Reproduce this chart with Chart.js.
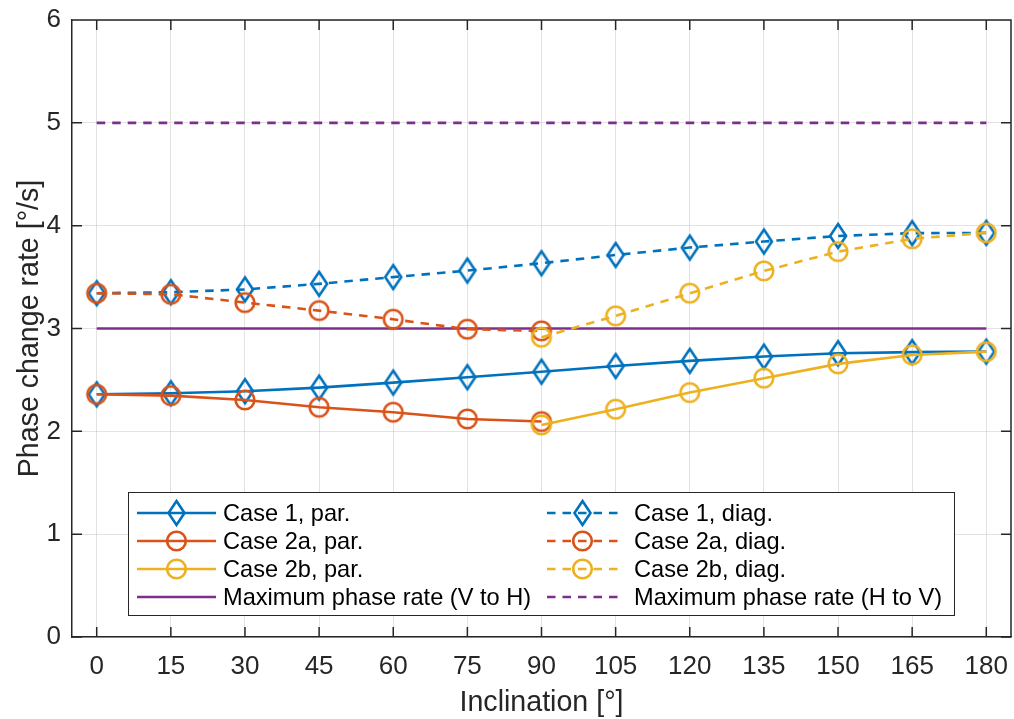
<!DOCTYPE html>
<html><head><meta charset="utf-8">
<script src="https://cdn.jsdelivr.net/npm/chart.js@4"></script>
<style>html,body{margin:0;padding:0;background:#fff}#wrap{width:1014px;height:719px;position:relative}</style>
</head><body><div id="wrap"><canvas id="c" width="1014" height="719"></canvas></div>
<script>
// ---- data ----
const angles = [0, 15, 30, 45, 60, 75, 90, 105, 120, 135, 150, 165, 180];
const case1Par = [2.36, 2.37, 2.39, 2.425, 2.474, 2.526, 2.58, 2.635, 2.685, 2.727, 2.76, 2.77, 2.775];
const case1Diag = [3.343, 3.353, 3.38, 3.434, 3.50, 3.563, 3.635, 3.715, 3.787, 3.846, 3.90, 3.927, 3.93];
const angles2a = [0, 15, 30, 45, 60, 75, 90];
const case2aPar = [2.36, 2.347, 2.305, 2.234, 2.186, 2.12, 2.095];
const case2aDiag = [3.343, 3.333, 3.252, 3.174, 3.09, 2.993, 2.977];
const angles2b = [90, 105, 120, 135, 150, 165, 180];
const case2bPar = [2.062, 2.215, 2.377, 2.517, 2.656, 2.743, 2.775];
const case2bDiag = [2.915, 3.123, 3.343, 3.56, 3.748, 3.872, 3.93];
const limitAngles = [0, 180];
const maxRateVtoH = [3, 3];
const maxRateHtoV = [5, 5];
const xTicks = [0, 15, 30, 45, 60, 75, 90, 105, 120, 135, 150, 165, 180];
const yTicks = [0, 1, 2, 3, 4, 5, 6];
const labels = ['Case 1, par.', 'Case 2a, par.', 'Case 2b, par.', 'Maximum phase rate (V to H)',
                'Case 1, diag.', 'Case 2a, diag.', 'Case 2b, diag.', 'Maximum phase rate (H to V)'];

// ---- styles ----
const BLUE = '#0072BD', ORANGE = '#D95319', YELLOW = '#EDB120', PURPLE = '#7E2F8E';
const AXIS = '#262626';
const FONT = "'Liberation Sans', Arial, sans-serif";
const LW = 2.6;
const DASH = [8.5, 7];

function drawMarker(ctx, kind, x, y, color) {
  if (!kind) return;
  ctx.save();
  ctx.strokeStyle = color; ctx.lineWidth = LW; ctx.setLineDash([]);
  ctx.beginPath();
  if (kind === 'diamond') {
    ctx.lineJoin = 'miter';
    ctx.moveTo(x, y - 12); ctx.lineTo(x + 8, y); ctx.lineTo(x, y + 12); ctx.lineTo(x - 8, y); ctx.closePath();
  } else {
    ctx.arc(x, y, 9.3, 0, Math.PI * 2);
  }
  ctx.stroke();
  ctx.restore();
}
function markerCanvas(kind, color) {
  const c = document.createElement('canvas');
  c.width = 32; c.height = 32;
  drawMarker(c.getContext('2d'), kind, 16, 16, color);
  return c;
}
const pts = (xs, ys) => xs.map((x, i) => ({x: x, y: ys[i]}));

function ds(label, xs, ys, color, marker, dashed, order) {
  return {
    label, data: pts(xs, ys), borderColor: color, backgroundColor: color,
    borderWidth: LW, borderDash: dashed ? DASH : [], tension: 0, fill: false,
    pointStyle: marker ? markerCanvas(marker, color) : 'circle',
    pointRadius: marker ? 10 : 0, pointHoverRadius: marker ? 10 : 0,
    order, _marker: marker, _dashed: dashed
  };
}

const datasets = [
  ds(labels[0], angles, case1Par, BLUE, 'diamond', false, 8),
  ds(labels[1], angles2a, case2aPar, ORANGE, 'circle', false, 7),
  ds(labels[2], angles2b, case2bPar, YELLOW, 'circle', false, 6),
  ds(labels[3], limitAngles, maxRateVtoH, PURPLE, null, false, 5),
  ds(labels[4], angles, case1Diag, BLUE, 'diamond', true, 4),
  ds(labels[5], angles2a, case2aDiag, ORANGE, 'circle', true, 3),
  ds(labels[6], angles2b, case2bDiag, YELLOW, 'circle', true, 2),
  ds(labels[7], limitAngles, maxRateHtoV, PURPLE, null, true, 1)
];

const framePlugin = {
  id: 'frame',
  beforeDatasetsDraw(chart) {
    const {ctx, chartArea: a, scales} = chart;
    ctx.save();
    ctx.strokeStyle = AXIS; ctx.lineWidth = 1.5; ctx.setLineDash([]);
    ctx.beginPath();
    ctx.moveTo(a.left, a.top); ctx.lineTo(a.right, a.top); ctx.lineTo(a.right, a.bottom);
    xTicks.forEach(v => {
      const px = scales.x.getPixelForValue(v);
      ctx.moveTo(px, a.bottom); ctx.lineTo(px, a.bottom - 10);
      ctx.moveTo(px, a.top); ctx.lineTo(px, a.top + 10);
    });
    yTicks.forEach(v => {
      const py = scales.y.getPixelForValue(v);
      ctx.moveTo(a.left, py); ctx.lineTo(a.left + 10, py);
      ctx.moveTo(a.right, py); ctx.lineTo(a.right - 10, py);
    });
    ctx.stroke();
    ctx.restore();
  }
};

const legendPlugin = {
  id: 'boxLegend',
  afterDraw(chart) {
    const ctx = chart.ctx;
    const box = {x: 128.5, y: 492.5, w: 826, h: 123};
    ctx.save();
    ctx.fillStyle = '#fff';
    ctx.fillRect(box.x, box.y, box.w, box.h);
    ctx.strokeStyle = AXIS; ctx.lineWidth = 1; ctx.setLineDash([]);
    ctx.strokeRect(box.x, box.y, box.w, box.h);
    const cols = [{l0: 137, l1: 216, m: 176.5, t: 223}, {l0: 547, l1: 618, m: 582.5, t: 634}];
    const rows = [513, 541, 569, 597];
    chart.data.datasets.forEach((d, i) => {
      const c = cols[Math.floor(i / 4)], y = rows[i % 4];
      ctx.save();
      ctx.strokeStyle = d.borderColor; ctx.lineWidth = LW;
      ctx.setLineDash(d._dashed ? DASH : []);
      ctx.beginPath(); ctx.moveTo(c.l0, y); ctx.lineTo(c.l1, y); ctx.stroke();
      ctx.restore();
      drawMarker(ctx, d._marker, c.m, y, d.borderColor);
      ctx.fillStyle = '#000';
      ctx.font = '23.6px ' + FONT;
      ctx.textBaseline = 'middle'; ctx.textAlign = 'left';
      ctx.fillText(d.label, c.t, y + 1);
    });
    ctx.restore();
  }
};

new Chart(document.getElementById('c'), {
  type: 'line',
  data: {datasets},
  options: {
    responsive: false, animation: false, events: [],
    layout: {autoPadding: false, padding: {top: 20, right: 3, left: 0, bottom: 0}},
    plugins: {legend: {display: false}, tooltip: {enabled: false}},
    scales: {
      x: {
        type: 'linear', min: -5, max: 185,
        afterBuildTicks: s => { s.ticks = xTicks.map(v => ({value: v})); },
        afterFit: s => { s.height = 82; s.paddingLeft = 0; s.paddingRight = 0; },
        grid: {color: 'rgba(38,38,38,0.13)', lineWidth: 1, drawTicks: false},
        border: {display: true, color: AXIS, width: 1.5},
        ticks: {font: {size: 26, family: FONT}, color: AXIS, padding: 14, maxRotation: 0, autoSkip: false},
        title: {display: true, text: 'Inclination [°]', color: AXIS,
                font: {size: 28.6, family: FONT, lineHeight: 1}, padding: {top: 0, bottom: 2}}
      },
      y: {
        type: 'linear', min: 0, max: 6,
        afterBuildTicks: s => { s.ticks = yTicks.map(v => ({value: v})); },
        afterFit: s => { s.width = 72; s.paddingTop = 0; s.paddingBottom = 0; },
        grid: {color: 'rgba(38,38,38,0.13)', lineWidth: 1, drawTicks: false},
        border: {display: true, color: AXIS, width: 1.5},
        ticks: {font: {size: 26, family: FONT}, color: AXIS, padding: 11},
        title: {display: true, text: 'Phase change rate [°/s]', color: AXIS,
                font: {size: 28.6, family: FONT, lineHeight: 1}, padding: {top: 15.7, bottom: 0}}
      }
    }
  },
  plugins: [framePlugin, legendPlugin]
});
</script>
</body></html>
